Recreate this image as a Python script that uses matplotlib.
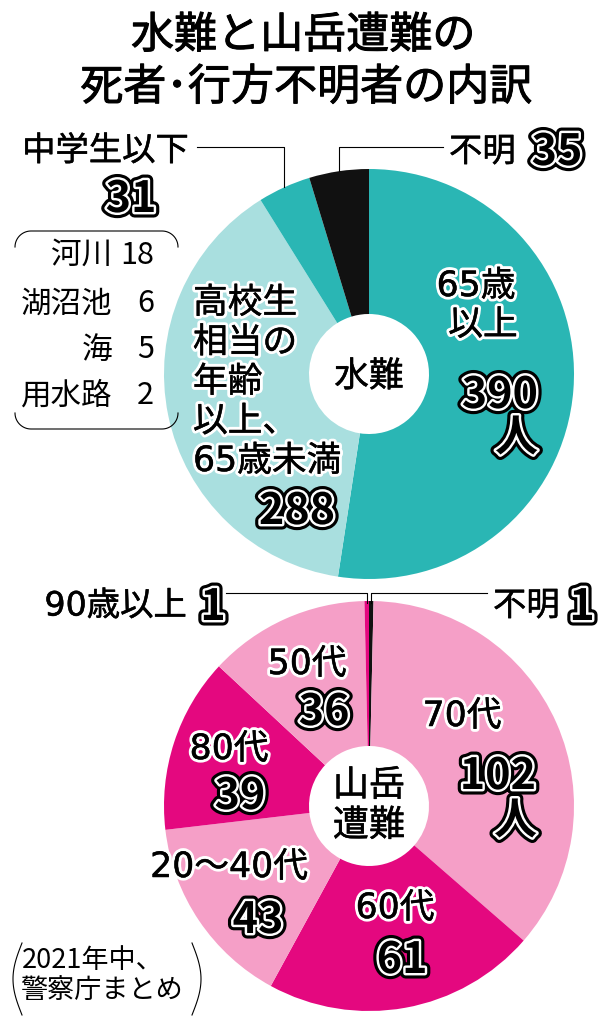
import numpy as np
import matplotlib
matplotlib.use("Agg")
import matplotlib.pyplot as plt
import matplotlib.patheffects as pe

plt.rcParams['font.family'] = ['Noto Sans CJK JP', 'DejaVu Sans']

# データ（2021年中、警察庁まとめ）
water_labels = ['65歳以上', '高校生相当の年齢以上、65歳未満', '中学生以下', '不明']
water_values = [390, 288, 31, 35]
water_colors = ['#2ab6b4', '#a9dfdf', '#2ab6b4', '#111111']

junior_places = ['河川', '湖沼池', '海', '用水路']
junior_counts = [18, 6, 5, 2]

mount_labels = ['不明', '70代', '60代', '20〜40代', '80代', '50代', '90歳以上']
mount_values = [1, 102, 61, 43, 39, 36, 1]
mount_colors = ['#111111', '#f59fc7', '#e4087f', '#f59fc7', '#e4087f', '#f59fc7', '#e4087f']

W, H = 604, 1024
R, R_IN = 205, 60
C_TOP = (369, 374)
C_BOT = (369, 806)

LABEL_FONT = ['DejaVu Sans', 'Noto Sans CJK JP']


def Y(y):
    # 画像の上からの座標 -> axes 座標
    return H - y


title_fx = [pe.withStroke(linewidth=0.7, foreground='black')]
thick = [pe.withStroke(linewidth=0.35, foreground='black')]
halo = [pe.Stroke(linewidth=4.5, foreground='white'),
        pe.Stroke(linewidth=0.35, foreground='black'), pe.Normal()]
num_fx = [pe.Stroke(linewidth=8, foreground='black'),
          pe.Stroke(linewidth=3.5, foreground='white'),
          pe.Normal()]


def label(x, y, s, size=25, ha='center', fx=halo, family=LABEL_FONT, **kw):
    ax.text(x, Y(y), s, fontsize=size, ha=ha, va='center', color='black',
            path_effects=fx, family=family, **kw)


def lines(x, y, rows, step, **kw):
    # 複数行を1行ずつ配置
    for i, s in enumerate(rows):
        label(x, y + i * step, s, **kw)


def number(x, y, s, size=31, ha='center'):
    ax.text(x, Y(y), s, fontsize=size, ha=ha, va='center', color='black',
            fontweight='bold', path_effects=num_fx)


def edge_point(center, values, idx):
    # 扇形の中央角から外周上の点を求める（12時から時計回り）
    cum = np.cumsum([0] + list(values))
    mid = (cum[idx] + cum[idx + 1]) / 2 / cum[-1] * 2 * np.pi
    return center[0] + R * np.sin(mid), center[1] - R * np.cos(mid)


fig = plt.figure(figsize=(W / 100, H / 100), dpi=100)
ax = fig.add_axes([0, 0, 1, 1])

ax.pie(water_values, colors=water_colors, startangle=90, counterclock=False,
       center=(C_TOP[0], Y(C_TOP[1])), radius=R,
       wedgeprops=dict(width=R - R_IN, linewidth=0))
ax.pie(mount_values, colors=mount_colors, startangle=90, counterclock=False,
       center=(C_BOT[0], Y(C_BOT[1])), radius=R,
       wedgeprops=dict(width=R - R_IN, linewidth=0))

ax.set_xlim(0, W)
ax.set_ylim(0, H)
ax.set_aspect('equal')
ax.axis('off')

# タイトル
ax.text(303, Y(36), '水難と山岳遭難の', fontsize=31, ha='center', va='center',
        path_effects=title_fx)
ax.text(306, Y(88), '死者･行方不明者の内訳', fontsize=31, ha='center', va='center',
        path_effects=title_fx)

# --- 水難 ---
# 引き出し線
x0, y0 = edge_point(C_TOP, water_values, 2)
ax.plot([197, x0, x0], [Y(147), Y(147), Y(y0)], color='black', lw=0.8)
x1, y1 = edge_point(C_TOP, water_values, 3)
ax.plot([443, x1, x1], [Y(147), Y(147), Y(y1)], color='black', lw=0.8)

label(189, 151, '中学生以下', size=24, ha='right', fx=thick)
number(131, 199, str(water_values[2]))
label(449, 152, '不明', size=24, ha='left', fx=thick)
number(557, 152, str(water_values[3]))

# 内訳（河川など）
rows_y = [255, 304, 350, 396]
for yy, place, cnt in zip(rows_y, junior_places, junior_counts):
    label(112, yy, place, size=22, ha='right', fx=None, family='Noto Sans CJK JP')
    label(154, yy, str(cnt), size=22, ha='right', fx=None, family='Noto Sans CJK JP')

# 括弧（上下の弧）
t = np.linspace(0, np.pi / 2, 20)
cr = 16
for ytop, sgn in [(231, 1), (429, -1)]:
    xs = np.concatenate([15 + cr - cr * np.cos(t), [15 + cr, 178 - cr],
                         178 - cr + cr * np.sin(t)])
    ys = np.concatenate([ytop + sgn * cr - sgn * cr * np.sin(t), [ytop, ytop],
                         ytop + sgn * cr - sgn * cr * np.cos(t)])
    ax.plot(xs, [Y(v) for v in ys], color='black', lw=0.8)

label(476, 286, '65歳')
label(483, 325, '以上')
number(538, 395, '390', ha='right')
number(538, 438, '人', ha='right')
lines(193, 303, ['高校生', '相当の', '年齢', '以上、', '65歳未満'], 39.5, ha='left')
number(297, 511, str(water_values[1]))
label(369, 377, '水難', size=25, fx=thick, family='Noto Sans CJK JP')

# --- 山岳遭難 ---
x2, y2 = edge_point(C_BOT, mount_values, 6)
ax.plot([226, x2, x2], [Y(593), Y(593), Y(y2 + 2)], color='black', lw=0.8)
x3, y3 = edge_point(C_BOT, mount_values, 0)
ax.plot([487, x3, x3], [Y(593), Y(593), Y(y3 + 2)], color='black', lw=0.8)

label(187, 606, '90歳以上', size=24, ha='right', fx=thick)
number(213, 607, str(mount_values[6]))
label(493, 606, '不明', size=24, ha='left', fx=thick)
number(582, 607, str(mount_values[0]))

label(307, 664, '50代')
number(324, 712, str(mount_values[5]))
label(229, 749, '80代')
number(240, 796, str(mount_values[4]))
label(462, 716, '70代')
number(536, 776, '102', ha='right')
number(537, 821, '人', ha='right')
label(229, 867, '20〜40代')
number(258, 920, str(mount_values[3]))
label(395, 908, '60代')
number(402, 960, str(mount_values[2]))
label(369, 786, '山岳', size=26, fx=thick, family='Noto Sans CJK JP')
label(369, 826, '遭難', size=26, fx=thick, family='Noto Sans CJK JP')

# 出典
ax.text(22, Y(961), '2021年中、', fontsize=19.5, ha='left', va='center')
ax.text(20, Y(990), '警察庁まとめ', fontsize=19.5, ha='left', va='center')
tt = np.linspace(-1, 1, 40)
ax.plot(22 - 9 * np.cos(tt * np.pi / 2), [Y(979 + 36 * v) for v in tt], color='black', lw=0.8)
ax.plot(192 + 9 * np.cos(tt * np.pi / 2), [Y(979 + 36 * v) for v in tt], color='black', lw=0.8)

fig.savefig('out.png', dpi=100)
